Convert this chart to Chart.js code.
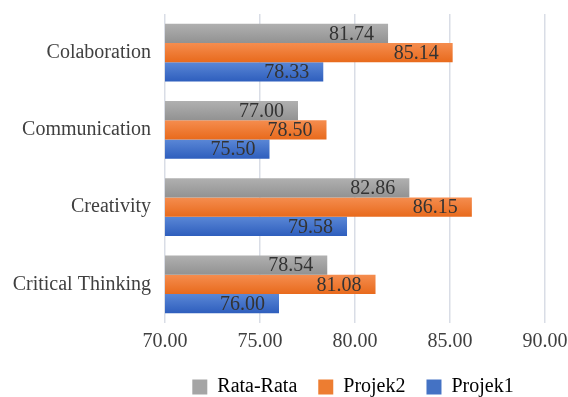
<!DOCTYPE html>
<html>
<head>
<meta charset="utf-8">
<script src="https://cdn.jsdelivr.net/npm/chart.js@4.4.1/dist/chart.umd.min.js"></script>
<style>
  html, body { margin: 0; padding: 0; background: #fff; }
  #wrap { width: 568px; height: 397px; }
</style>
</head>
<body>
<div id="wrap"><canvas id="chart" width="568" height="397"></canvas></div>
<script>
const categories = ["Colaboration", "Communication", "Creativity", "Critical Thinking"];
const rataRata = [81.74, 77.00, 82.86, 78.54];
const projek2 = [85.14, 78.50, 86.15, 81.08];
const projek1 = [78.33, 75.50, 79.58, 76.00];
const xTicks = [70, 75, 80, 85, 90];

const FONT = "'Liberation Serif', 'Times New Roman', serif";
const CAT_PCT = 0.75;

// vertical gradient per bar, worked out from the category scale
function barGradient(top, bottom) {
  return function (ctx) {
    const chart = ctx.chart;
    const y = chart.scales.y;
    if (!chart.chartArea || !y || ctx.dataIndex === undefined) return bottom;
    const n = chart.data.datasets.length;
    const band = (y.bottom - y.top) / categories.length;
    const bh = band * CAT_PCT / n;
    const c = y.getPixelForValue(ctx.dataIndex);
    const t = c - (n / 2) * bh + ctx.datasetIndex * bh;
    const g = chart.ctx.createLinearGradient(0, t, 0, t + bh);
    g.addColorStop(0, top);
    g.addColorStop(1, bottom);
    return g;
  };
}

const valueLabels = {
  id: "valueLabels",
  afterDatasetsDraw(chart) {
    const ctx = chart.ctx;
    ctx.save();
    ctx.font = "20px " + FONT;
    ctx.fillStyle = "#333333";
    ctx.textAlign = "right";
    ctx.textBaseline = "middle";
    chart.data.datasets.forEach((ds, i) => {
      chart.getDatasetMeta(i).data.forEach((bar, j) => {
        ctx.fillText(ds.data[j].toFixed(2), bar.x - 14, bar.y + 1);
      });
    });
    ctx.restore();
  }
};

// centre the legend under the plot area instead of the whole canvas
const legendShift = {
  id: "legendShift",
  afterUpdate(chart) {
    const lg = chart.legend;
    if (!lg) return;
    const dx = (chart.chartArea.left + chart.chartArea.right) / 2 - (lg.left + lg.right) / 2 - 2;
    lg.left += dx;
    lg.right += dx;
  }
};

new Chart(document.getElementById("chart"), {
  type: "bar",
  data: {
    labels: categories,
    datasets: [
      { label: "Rata-Rata", data: rataRata, backgroundColor: barGradient("#b0b0b0", "#929292"), legendColor: "#a5a5a5" },
      { label: "Projek2", data: projek2, backgroundColor: barGradient("#f58d4f", "#e86a1c"), legendColor: "#ed7d31" },
      { label: "Projek1", data: projek1, backgroundColor: barGradient("#5a87d6", "#2e5ebd"), legendColor: "#4472c4" },
    ],
  },
  options: {
    indexAxis: "y",
    responsive: false,
    animation: false,
    devicePixelRatio: 1,
    categoryPercentage: CAT_PCT,
    barPercentage: 1.0,
    layout: { padding: { top: 14, left: 0, right: 0, bottom: -10 } },
    scales: {
      x: {
        min: 70,
        max: 90,
        afterBuildTicks: (axis) => { axis.ticks = xTicks.map(v => ({ value: v })); },
        afterFit: (axis) => { axis.height = 33; axis.paddingLeft = 0; axis.paddingRight = 23; },
        grid: { color: "#d9dde6", lineWidth: 1.5, drawTicks: false },
        border: { display: false },
        ticks: {
          padding: 7,
          color: "#404040",
          font: { family: FONT, size: 20 },
          callback: (v) => Number(v).toFixed(2),
        },
      },
      y: {
        afterFit: (axis) => { axis.width = 165; axis.paddingTop = 0; axis.paddingBottom = 0; },
        grid: { display: false, drawTicks: false },
        border: { display: false },
        ticks: {
          padding: 14,
          color: "#404040",
          font: { family: FONT, size: 20 },
        },
      },
    },
    plugins: {
      legend: {
        position: "bottom",
        labels: {
          boxWidth: 15,
          boxHeight: 15,
          padding: 21,
          color: "#404040",
          font: { family: FONT, size: 20 },
          generateLabels: (chart) => chart.data.datasets.map((ds, i) => ({
            text: ds.label,
            fillStyle: ds.legendColor,
            strokeStyle: ds.legendColor,
            lineWidth: 0,
            datasetIndex: i,
            hidden: false,
          })),
        },
      },
      tooltip: { enabled: false },
    },
  },
  plugins: [valueLabels, legendShift],
});
</script>
</body>
</html>
